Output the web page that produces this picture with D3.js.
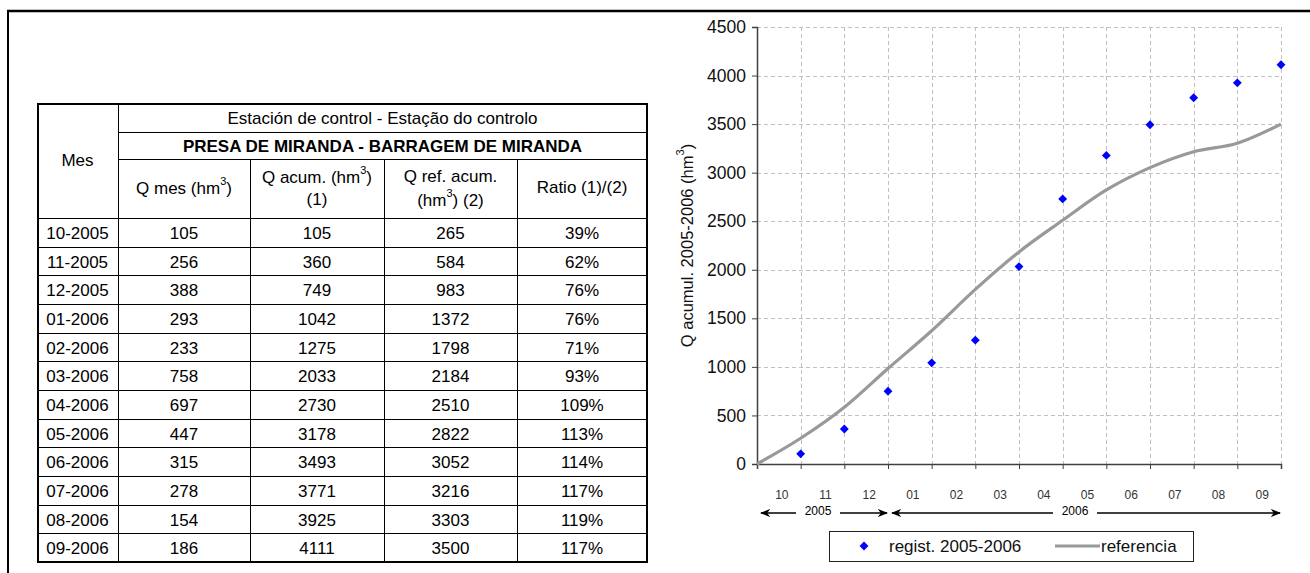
<!DOCTYPE html>
<html><head><meta charset="utf-8">
<script src="https://cdn.jsdelivr.net/npm/d3@7"></script>
<style>
html,body{margin:0;padding:0;background:#fff;}
svg{display:block;font-family:"Liberation Sans",Arial,sans-serif;}
</style></head>
<body>
<svg id="c" width="1310" height="573"></svg>
<script>
// ---- data ----
const months = ["10-2005","11-2005","12-2005","01-2006","02-2006","03-2006","04-2006","05-2006","06-2006","07-2006","08-2006","09-2006"];
const qMes = [105,256,388,293,233,758,697,447,315,278,154,186];
const qAcum = [105,360,749,1042,1275,2033,2730,3178,3493,3771,3925,4111];
const qRef = [265,584,983,1372,1798,2184,2510,2822,3052,3216,3303,3500];
const ratio = ["39%","62%","76%","76%","71%","93%","109%","113%","114%","117%","119%","117%"];
const monthTicks = ["10","11","12","01","02","03","04","05","06","07","08","09"];
const yTicks = [0,500,1000,1500,2000,2500,3000,3500,4000,4500];
const years = [{label:"2005", from:0, to:3},{label:"2006", from:3, to:12}];

const svg = d3.select("#c");

// ---- outer frame ----
svg.append("line").attr("x1",7).attr("x2",1310).attr("y1",11).attr("y2",11).attr("stroke","#000").attr("stroke-width",2.5);
svg.append("line").attr("x1",8).attr("x2",8).attr("y1",10).attr("y2",573).attr("stroke","#000").attr("stroke-width",2);

// ---- table ----
const colX = [37,118,250,384,517,647];
const hdrY = [103,132,159,218];
const rowH = (562-218)/12;
const rowY = d3.range(13).map(i => 218 + i*rowH);
const T = svg.append("g").attr("font-size",17).attr("fill","#000");
const ln = (x1,y1,x2,y2,w)=>T.append("line").attr("x1",x1).attr("y1",y1).attr("x2",x2).attr("y2",y2).attr("stroke","#000").attr("stroke-width",w||1).attr("shape-rendering","crispEdges");
ln(colX[1],hdrY[1]+0.5,colX[5],hdrY[1]+0.5);
ln(colX[1],hdrY[2]+0.5,colX[5],hdrY[2]+0.5);
rowY.slice(0,12).forEach(y=>ln(colX[0],Math.round(y)+0.5,colX[5],Math.round(y)+0.5));
ln(colX[1]+0.5,hdrY[0],colX[1]+0.5,rowY[12]);
[2,3,4].forEach(i=>ln(colX[i]+0.5,hdrY[2],colX[i]+0.5,rowY[12]));
T.append("rect").attr("x",colX[0]+1).attr("y",hdrY[0]+1).attr("width",colX[5]-colX[0]-1).attr("height",rowY[12]-hdrY[0]-1)
  .attr("fill","none").attr("stroke","#000").attr("stroke-width",2);

const txt = (x,y,s,o)=>{const t=T.append("text").attr("x",x).attr("y",y).attr("text-anchor","middle").attr("dominant-baseline","central").text(s); if(o) Object.entries(o).forEach(([k,v])=>t.attr(k,v)); return t;};
const cx = i => (colX[i]+colX[i+1])/2;
txt((colX[0]+colX[1])/2,(hdrY[0]+hdrY[3])/2,"Mes");
txt((colX[1]+colX[5])/2,(hdrY[0]+hdrY[1])/2+1,"Estación de control - Estação do controlo");
txt((colX[1]+colX[5])/2,(hdrY[1]+hdrY[2])/2+1,"PRESA DE MIRANDA - BARRAGEM DE MIRANDA",{"font-weight":"bold"});
function supText(x,y,parts){
  const t=T.append("text").attr("x",x).attr("y",y).attr("text-anchor","middle").attr("dominant-baseline","central");
  parts.forEach(p=>{const s=t.append("tspan").text(p[0]); if(p[1]){s.attr("font-size",11).attr("dy",-7);} else if(p[2]){s.attr("dy",7);} });
  return t;
}
const hm = (hdrY[2]+hdrY[3])/2;
supText(cx(1),hm-1,[["Q mes (hm"],["3",1],[")",0,1]]);
supText(cx(2),hm-12,[["Q acum. (hm"],["3",1],[")",0,1]]);
txt(cx(2),hm+11,"(1)");
txt(cx(3),hm-12,"Q ref. acum.");
supText(cx(3),hm+11,[["(hm"],["3",1],[") (2)",0,1]]);
txt(cx(4),hm-1,"Ratio (1)/(2)");

months.forEach((m,r)=>{
  const y = rowY[r]+rowH/2+1;
  txt(cx(0),y,m);
  [qMes,qAcum,qRef,ratio].forEach((arr,c)=>txt(cx(c+1),y,arr[r]));
});

// ---- chart ----
const x = d3.scaleLinear().domain([0,12]).range([757,1281]);
const y = d3.scaleLinear().domain([0,4500]).range([464,27]);
const G = svg.append("g");
G.append("g").selectAll("line").data(yTicks.filter(d=>d>0)).join("line")
  .attr("x1",x(0)).attr("x2",x(12)).attr("y1",d=>Math.round(y(d))+0.5).attr("y2",d=>Math.round(y(d))+0.5)
  .attr("stroke","#c0c0c0").attr("stroke-dasharray","4,3");
G.append("g").selectAll("line").data(d3.range(1,13)).join("line")
  .attr("x1",d=>Math.round(x(d))+0.5).attr("x2",d=>Math.round(x(d))+0.5).attr("y1",y(4500)).attr("y2",y(0))
  .attr("stroke","#c0c0c0").attr("stroke-dasharray","4,3");
const yAxis = d3.axisLeft(y).tickValues(yTicks).tickSize(5).tickPadding(6).tickFormat(d3.format("d"));
const gy = G.append("g").attr("transform",`translate(${x(0)},0)`).call(yAxis);
gy.select(".domain").attr("stroke","#404040").attr("stroke-width",1.5);
gy.selectAll(".tick line").attr("stroke","#404040");
gy.selectAll("text").attr("font-size",17.5).attr("font-family","Liberation Sans, Arial").attr("fill","#111");
const xAxis = d3.axisBottom(x).tickValues(d3.range(0,13)).tickSize(5).tickFormat("");
const gx = G.append("g").attr("transform",`translate(0,${y(0)})`).call(xAxis);
gx.select(".domain").attr("stroke","#404040").attr("stroke-width",1.5);
gx.selectAll(".tick line").attr("stroke","#404040");
G.append("g").selectAll("text").data(monthTicks).join("text")
  .attr("x",(d,i)=>x(i+0.5)+3).attr("y",495).attr("text-anchor","middle").attr("dominant-baseline","central")
  .attr("font-size",12).attr("fill","#333").text(d=>d);
const yr = G.append("g");
const defs = svg.append("defs");
defs.append("marker").attr("id","ah").attr("viewBox","0 0 10 10").attr("refX",9).attr("refY",5)
  .attr("markerWidth",8).attr("markerHeight",8).attr("orient","auto-start-reverse")
  .append("path").attr("d","M0,1 L10,5 L0,9 L3,5 Z").attr("fill","#000");
years.forEach((o,k)=>{
  const x1 = x(o.from)+4, x2 = x(o.to)-1, mid=(x1+x2)/2 - (k===0?6:11), hw=22;
  yr.append("line").attr("x1",mid-hw).attr("x2",x1).attr("y1",513).attr("y2",513).attr("stroke","#000").attr("stroke-width",1.3).attr("marker-end","url(#ah)");
  yr.append("line").attr("x1",mid+hw).attr("x2",x2).attr("y1",513).attr("y2",513).attr("stroke","#000").attr("stroke-width",1.3).attr("marker-end","url(#ah)");
  yr.append("text").attr("x",mid).attr("y",511).attr("text-anchor","middle").attr("dominant-baseline","central").attr("font-size",12).text(o.label);
});
const refPts = [[0,0]].concat(qRef.map((v,i)=>[i+1,v]));
G.append("path").datum(refPts).attr("fill","none").attr("stroke","#999").attr("stroke-width",3.2)
  .attr("stroke-linejoin","round")
  .attr("d",d3.line().x(d=>x(d[0])).y(d=>y(d[1])).curve(d3.curveMonotoneX));
const sym = d3.symbol().type(d3.symbolDiamond2).size(50);
G.append("g").selectAll("path").data(qAcum).join("path")
  .attr("transform",(d,i)=>`translate(${x(i+1)},${y(d)})`).attr("d",sym).attr("fill","#0000ff");
G.append("text").attr("transform",`translate(687,${(y(0)+y(4500))/2}) rotate(-90)`).attr("text-anchor","middle")
  .attr("dominant-baseline","central").attr("font-size",16.5).attr("fill","#111")
  .call(t=>{t.append("tspan").text("Q acumul. 2005-2006 (hm"); t.append("tspan").attr("font-size",11).attr("dy",-7).text("3"); t.append("tspan").attr("dy",7).text(")");});
const L = svg.append("g");
L.append("rect").attr("x",829.5).attr("y",531.5).attr("width",364).attr("height",30).attr("fill","#fff").attr("stroke","#222");
L.append("path").attr("transform","translate(864,546)").attr("d",sym).attr("fill","#0000ff");
L.append("text").attr("x",889).attr("y",546).attr("dominant-baseline","central").attr("font-size",17).attr("fill","#111").text("regist. 2005-2006");
L.append("line").attr("x1",1055).attr("x2",1100).attr("y1",546).attr("y2",546).attr("stroke","#999").attr("stroke-width",3.2);
L.append("text").attr("x",1101).attr("y",546).attr("dominant-baseline","central").attr("font-size",17).attr("fill","#111").text("referencia");
</script>
</body></html>
